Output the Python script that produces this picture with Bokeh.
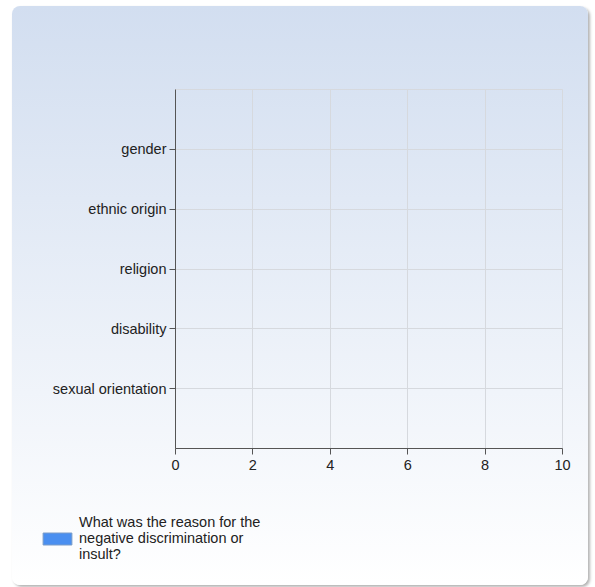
from bokeh.plotting import figure
from bokeh.layouts import column
from bokeh.models import FactorRange, Range1d, FixedTicker, Legend, LegendItem
from bokeh.embed import file_html
from bokeh.resources import INLINE

categories = ["gender", "ethnic origin", "religion", "disability", "sexual orientation"]
values = [0, 0, 0, 0, 0]
x_ticks = [0, 2, 4, 6, 8, 10]
series_name = "What was the reason for the\nnegative discrimination or\ninsult?"

FONT = "Liberation Sans"
FSIZE = "14.5px"
BAR_FILL = "#4a8ff0"
BAR_LINE = "#7a9cc8"
GRID = "#d6d9de"

# ---- main chart ----
p = figure(
    width=576, height=484,
    y_range=FactorRange(factors=list(reversed(categories)), range_padding=0.5,
                        range_padding_units="absolute"),
    x_range=Range1d(0, 10),
    output_backend="svg", toolbar_location=None,
    min_border_left=163, min_border_top=83, min_border_right=26, min_border_bottom=42,
)
p.frame_align = False
p.background_fill_color = None
p.border_fill_color = None
p.outline_line_color = GRID

r = p.hbar(y=categories, right=values, left=0, height=0.6,
           fill_color=BAR_FILL, line_color=BAR_LINE)

for ax in (p.xaxis[0], p.yaxis[0]):
    ax.axis_line_color = "#555555"
    ax.major_tick_line_color = "#555555"
    ax.major_tick_in = 0
    ax.major_tick_out = 6
    ax.minor_tick_line_color = None
    ax.major_label_text_font = FONT
    ax.major_label_text_font_size = FSIZE
    ax.major_label_text_color = "#222222"
p.xaxis.ticker = FixedTicker(ticks=x_ticks)
p.xaxis.major_label_standoff = 5
p.yaxis.major_label_standoff = 3

p.xgrid.ticker = FixedTicker(ticks=x_ticks)
p.xgrid.grid_line_color = GRID
p.ygrid.grid_line_color = GRID

# ---- legend strip ----
lg = figure(
    width=576, height=95,
    y_range=FactorRange(factors=list(reversed(categories))),
    x_range=Range1d(0, 10),
    output_backend="svg", toolbar_location=None,
    min_border=0, min_border_left=0, min_border_right=0,
    min_border_top=0, min_border_bottom=0,
)
lg.frame_align = False
lg.axis.visible = False
lg.grid.visible = False
lg.background_fill_color = None
lg.border_fill_color = None
lg.outline_line_color = None
r2 = lg.hbar(y=categories, right=values, left=0, height=0.6,
             fill_color=BAR_FILL, line_color=BAR_LINE, visible=False)

legend = Legend(
    items=[LegendItem(label=series_name, renderers=[r2])],
    location=(27, 23),
    padding=0, margin=0, spacing=0,
    glyph_width=36, glyph_height=15, label_standoff=4,
    label_text_font=FONT, label_text_font_size=FSIZE, label_text_color="#222222",
    border_line_color=None, background_fill_color=None, background_fill_alpha=0,
    inactive_fill_alpha=0,
)
lg.add_layout(legend, "center")

layout = column(
    p, lg, spacing=0, width=576, height=579,
    styles={
        "background": "linear-gradient(to bottom, #d2def0 0%, #ffffff 100%)",
        "border-radius": "8px",
        "box-shadow": "2px 2px 3px rgba(0,0,0,0.30)",
        "margin-left": "12px",
        "margin-top": "6px",
    },
)

open("out.html", "w").write(file_html(layout, INLINE))
